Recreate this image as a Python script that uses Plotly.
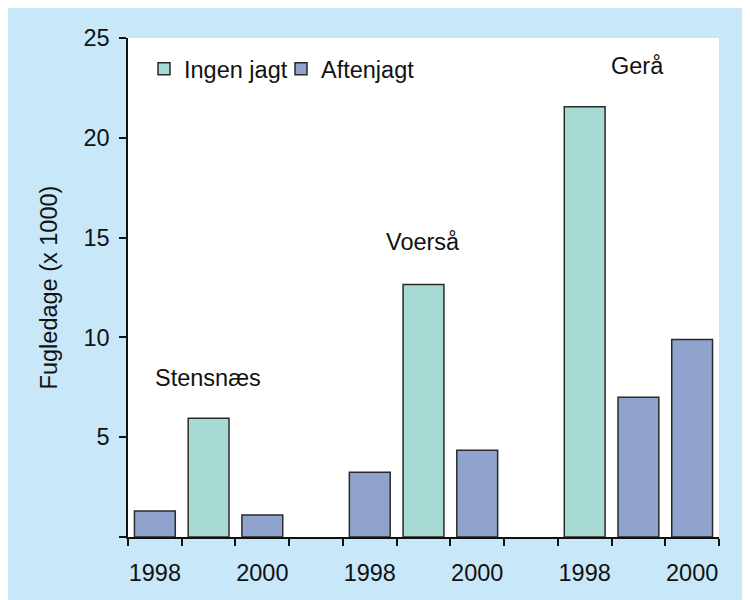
import plotly.graph_objects as go

# Data
categories = ["S1998", "S1999", "S2000", "gap1", "V1998", "V1999", "V2000", "gap2", "G1998", "G1999", "G2000"]
tick_labels = ["1998", "", "2000", "", "1998", "", "2000", "", "1998", "", "2000"]
ingen_jagt = [None, 5.95, None, None, None, 12.65, None, None, 21.55, None, None]
aftenjagt = [1.3, None, 1.1, None, 3.25, None, 4.35, None, None, 7.0, 9.9]
site_names = ["Stensnæs", "Voerså", "Gerå"]
site_x = [0.99, 4.99, 8.98]
site_y = [7.95, 14.8, 23.6]
y_ticks = [0, 5, 10, 15, 20, 25]
y_ticktext = ["", "5", "10", "15", "20", "25"]

GREEN = "#A6DAD2"
BLUE = "#8FA3CC"
PANEL = "#C8E7F9"
EDGE = "#2a2a2a"
FONT = "Liberation Sans, Arial, sans-serif"
FS = 23.5

fig = go.Figure()
fig.add_trace(go.Bar(x=categories, y=ingen_jagt, name="Ingen jagt", width=0.76,
                     marker=dict(color=GREEN, line=dict(color=EDGE, width=1.5))))
fig.add_trace(go.Bar(x=categories, y=aftenjagt, name="Aftenjagt", width=0.76,
                     marker=dict(color=BLUE, line=dict(color=EDGE, width=1.5))))

for name, x, y in zip(site_names, site_x, site_y):
    fig.add_annotation(x=x, y=y, text=name, showarrow=False,
                       font=dict(size=FS, color="#111"), xanchor="center", yanchor="middle")

# page has an 8px body margin; figure sized so it fills the rest of the window
W, H = 742, 592
L, T = 120, 30
pw, ph = 591, 499
R = W - L - pw
B = H - T - ph

fig.update_layout(
    width=W, height=H,
    margin=dict(l=L, r=R, t=T, b=B, pad=0, autoexpand=False),
    paper_bgcolor=PANEL,
    plot_bgcolor="white",
    barmode="overlay",
    font=dict(family=FONT, size=FS, color="#111"),
    showlegend=True,
    legend=dict(orientation="h", x=(144 - 8 - L) / pw, y=1 - (47 - 38) / ph, xanchor="left", yanchor="top",
                bgcolor="rgba(0,0,0,0)", font=dict(size=FS, color="#111"),
                itemwidth=30, traceorder="normal", tracegroupgap=0,
                entrywidth=92, entrywidthmode="pixels"),
)

fig.update_xaxes(
    type="category", categoryorder="array", categoryarray=categories,
    tickmode="array", tickvals=categories, ticktext=tick_labels, tickangle=0,
    tickson="boundaries", ticks="outside", ticklen=7, tickwidth=1.5, tickcolor="#111",
    showline=True, linecolor="#111", linewidth=1.5, automargin=False,
    showgrid=False, zeroline=False, range=[-0.5, 10.5],
    tickfont=dict(size=FS, color="#111"), ticklabelstandoff=14,
)
fig.update_yaxes(
    range=[0, 25], tickmode="array", tickvals=y_ticks, ticktext=y_ticktext,
    ticks="outside", ticklen=7, tickwidth=1.5, tickcolor="#111",
    showline=True, linecolor="#111", linewidth=1.5, automargin=False,
    showgrid=False, zeroline=False,
    tickfont=dict(size=FS, color="#111"), ticklabelstandoff=5,
    title=dict(text="Fugledage (x 1000)", font=dict(size=FS, color="#111"), standoff=19),
)

fig.write_html("out.html")
